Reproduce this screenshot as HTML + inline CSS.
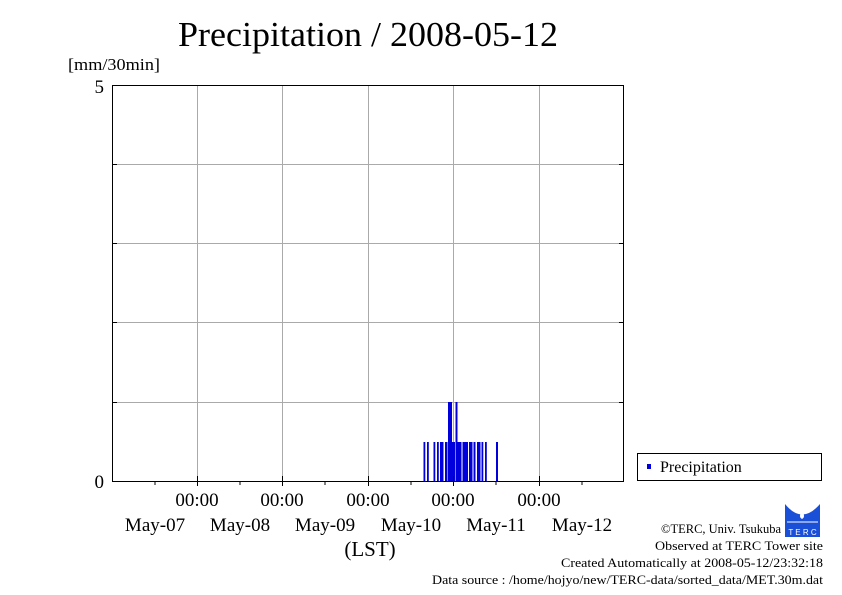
<!DOCTYPE html>
<html><head><meta charset="utf-8"><style>
body{margin:0;background:#fff}
svg{display:block;font-family:"Liberation Serif",serif}
</style></head><body>
<svg width="842" height="595" viewBox="0 0 842 595" xmlns="http://www.w3.org/2000/svg">
<rect width="842" height="595" fill="#fff"/>
<text x="178" y="46" font-size="35" textLength="380" lengthAdjust="spacingAndGlyphs">Precipitation / 2008-05-12</text>
<text x="68" y="70" font-size="17" textLength="92" lengthAdjust="spacingAndGlyphs">[mm/30min]</text>
<g stroke="#aaa" stroke-width="1">
<line x1="197.5" y1="85" x2="197.5" y2="481"/>
<line x1="282.5" y1="85" x2="282.5" y2="481"/>
<line x1="368.5" y1="85" x2="368.5" y2="481"/>
<line x1="453.5" y1="85" x2="453.5" y2="481"/>
<line x1="539.5" y1="85" x2="539.5" y2="481"/>
<line x1="112" y1="164.5" x2="624" y2="164.5"/>
<line x1="112" y1="243.5" x2="624" y2="243.5"/>
<line x1="112" y1="322.5" x2="624" y2="322.5"/>
<line x1="112" y1="402.5" x2="624" y2="402.5"/>
</g>
<g fill="#0000dd">
<rect x="423.5" y="442" width="1.8" height="39"/>
<rect x="427" y="442" width="1.8" height="39"/>
<rect x="433.5" y="442" width="1.8" height="39"/>
<rect x="437" y="442" width="1.8" height="39"/>
<rect x="440" y="442" width="3.5" height="39"/>
<rect x="445" y="442" width="2.5" height="39"/>
<rect x="448" y="402" width="4" height="79"/>
<rect x="452" y="442" width="3" height="39"/>
<rect x="455.5" y="402" width="2" height="79"/>
<rect x="457.5" y="442" width="4" height="39"/>
<rect x="462.5" y="442" width="5.5" height="39"/>
<rect x="469" y="442" width="3.5" height="39"/>
<rect x="473.5" y="442" width="2" height="39"/>
<rect x="477" y="442" width="3.5" height="39"/>
<rect x="481.5" y="442" width="1.8" height="39"/>
<rect x="485" y="442" width="1.8" height="39"/>
<rect x="496" y="442" width="2" height="39"/>
</g>
<rect x="112.5" y="85.5" width="511" height="396" fill="none" stroke="#000" stroke-width="1"/>
<g stroke="#000" stroke-width="1">
<line x1="112" y1="164.5" x2="117" y2="164.5"/><line x1="112" y1="243.5" x2="117" y2="243.5"/>
<line x1="112" y1="322.5" x2="117" y2="322.5"/><line x1="112" y1="402.5" x2="117" y2="402.5"/>
<line x1="619" y1="164.5" x2="624" y2="164.5"/><line x1="619" y1="243.5" x2="624" y2="243.5"/>
<line x1="619" y1="322.5" x2="624" y2="322.5"/><line x1="619" y1="402.5" x2="624" y2="402.5"/>
<line x1="197.5" y1="476" x2="197.5" y2="486"/><line x1="282.5" y1="476" x2="282.5" y2="486"/>
<line x1="368.5" y1="476" x2="368.5" y2="486"/><line x1="453.5" y1="476" x2="453.5" y2="486"/>
<line x1="539.5" y1="476" x2="539.5" y2="486"/>
<line x1="155" y1="481" x2="155" y2="485"/><line x1="240" y1="481" x2="240" y2="485"/>
<line x1="325" y1="481" x2="325" y2="485"/><line x1="411" y1="481" x2="411" y2="485"/>
<line x1="496" y1="481" x2="496" y2="485"/><line x1="582" y1="481" x2="582" y2="485"/>
</g>
<text x="104" y="93" font-size="19" text-anchor="end">5</text>
<text x="104" y="488" font-size="19" text-anchor="end">0</text>
<g font-size="19" text-anchor="middle">
<text x="197" y="506">00:00</text><text x="282" y="506">00:00</text><text x="368" y="506">00:00</text>
<text x="453" y="506">00:00</text><text x="539" y="506">00:00</text>
<text x="155" y="531">May-07</text><text x="240" y="531">May-08</text><text x="325" y="531">May-09</text>
<text x="411" y="531">May-10</text><text x="496" y="531">May-11</text><text x="582" y="531">May-12</text>
<text x="370" y="556" font-size="21">(LST)</text>
</g>
<rect x="637.5" y="453.5" width="184" height="27" fill="#fff" stroke="#000"/>
<rect x="647" y="464" width="4" height="5" fill="#0000dd"/>
<text x="660" y="472" font-size="16">Precipitation</text>
<g font-size="12.5" lengthAdjust="spacingAndGlyphs">
<text x="661" y="533" textLength="120" lengthAdjust="spacingAndGlyphs">©TERC, Univ. Tsukuba</text>
<text x="655" y="550" textLength="168" lengthAdjust="spacingAndGlyphs">Observed at TERC Tower site</text>
<text x="561" y="567" textLength="262" lengthAdjust="spacingAndGlyphs">Created Automatically at 2008-05-12/23:32:18</text>
<text x="432" y="584" textLength="391" lengthAdjust="spacingAndGlyphs">Data source : /home/hojyo/new/TERC-data/sorted_data/MET.30m.dat</text>
</g>
<g>
<rect x="785" y="504" width="35" height="33" fill="#1a4fd8"/>
<path d="M785 504 Q802 525 820 504" fill="#fff"/>
<path d="M802 510 q-4 7 0 9 q4 -2 0 -9z" fill="#fff"/>
<line x1="787" y1="522" x2="818" y2="522" stroke="#fff" stroke-width="1"/>
<text x="802.5" y="535" font-size="8" fill="#fff" text-anchor="middle" font-family="Liberation Sans,sans-serif">T E R C</text>
</g>
</svg>
</body></html>
